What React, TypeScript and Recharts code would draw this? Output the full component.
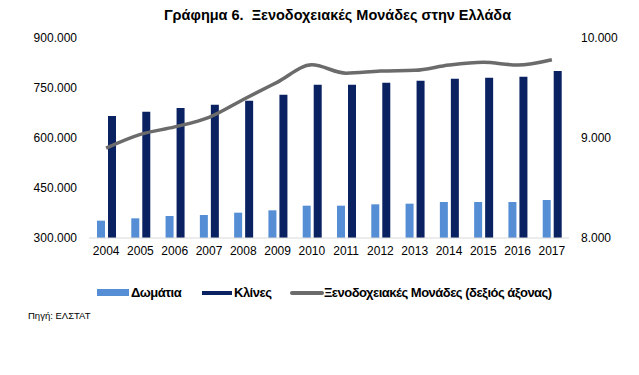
import { Bar, ComposedChart, Line, XAxis, YAxis } from "recharts";

const years = ["2004", "2005", "2006", "2007", "2008", "2009", "2010", "2011", "2012", "2013", "2014", "2015", "2016", "2017"];
const rooms = [352000, 359000, 366000, 369000, 376000, 383000, 397000, 397000, 401000, 403000, 408000, 408000, 408000, 414000];
const beds = [666000, 679000, 690000, 700000, 712000, 730000, 760000, 760000, 766000, 772000, 778000, 781000, 784000, 801000];
const hotels = [8899, 9036, 9111, 9207, 9385, 9559, 9732, 9648, 9670, 9677, 9730, 9757, 9730, 9783];

const leftTicks = [300000, 450000, 600000, 750000, 900000];
const rightTicks = [8000, 9000, 10000];

const LIGHT = "#558ed5";
const DARK = "#0a2261";
const GREY = "#6b6b6b";
const FONT = "'Liberation Sans', Arial, sans-serif";

const fmt = (v: number) => v.toLocaleString("de-DE", { minimumFractionDigits: 0 }).replace(/,/g, ".");

export default function App() {
  const data = years.map((year, i) => ({
    year,
    rooms: rooms[i],
    beds: beds[i],
    hotels: hotels[i]
  }));

  const tick = { fontSize: 12, fill: "#000", fontFamily: FONT };

  return (
    <div style={{ position: "absolute", left: 0, top: 0, width: 639, height: 375, background: "#fff", fontFamily: FONT }}>
      <div
        style={{
          position: "absolute",
          top: 7,
          left: 0,
          width: 675,
          textAlign: "center",
          fontSize: 14.5,
          fontWeight: "bold",
          color: "#000",
          whiteSpace: "pre"
        }}
      >
        {"Γράφημα 6.  Ξενοδοχειακές Μονάδες στην Ελλάδα"}
      </div>

      <div style={{ position: "absolute", top: 0, left: 0 }}>
        <ComposedChart
          width={639}
          height={268}
          data={data}
          margin={{ top: 38, right: 0, bottom: 0, left: 0 }}
          barSize={8}
          barGap={3}
        >
          <XAxis
            dataKey="year"
            tick={tick}
            tickLine={false}
            axisLine={{ stroke: "#d9d9d9" }}
            height={30}
            interval={0}
          />
          <YAxis
            yAxisId="left"
            orientation="left"
            width={89}
            domain={[300000, 900000]}
            ticks={leftTicks}
            tickFormatter={fmt}
            tick={tick}
            tickLine={false}
            axisLine={false}
            tickMargin={6}
          />
          <YAxis
            yAxisId="right"
            orientation="right"
            width={70}
            domain={[8000, 10000]}
            ticks={rightTicks}
            tickFormatter={fmt}
            tick={{ ...tick, textAnchor: "start" }}
            tickLine={false}
            axisLine={false}
            tickMargin={6}
          />
          <Bar yAxisId="left" dataKey="rooms" fill={LIGHT} isAnimationActive={false} />
          <Bar yAxisId="left" dataKey="beds" fill={DARK} isAnimationActive={false} />
          <Line
            yAxisId="right"
            type="monotone"
            dataKey="hotels"
            stroke={GREY}
            strokeWidth={3.5}
            dot={false}
            isAnimationActive={false}
          />
        </ComposedChart>
      </div>

      <div style={{ position: "absolute", top: 285, left: 0, fontSize: 13, fontWeight: "bold", color: "#000", letterSpacing: -0.5 }}>
        <div style={{ position: "absolute", left: 97, top: 4, width: 32, height: 7, background: LIGHT }} />
        <div style={{ position: "absolute", left: 131, top: 0, whiteSpace: "nowrap" }}>Δωμάτια</div>
        <div style={{ position: "absolute", left: 202, top: 6, width: 30, height: 4, background: DARK }} />
        <div style={{ position: "absolute", left: 234, top: 0, whiteSpace: "nowrap" }}>Κλίνες</div>
        <div style={{ position: "absolute", left: 290, top: 6, width: 34, height: 4, background: GREY, borderRadius: 2 }} />
        <div style={{ position: "absolute", left: 324, top: 0, whiteSpace: "nowrap" }}>Ξενοδοχειακές Μονάδες (δεξιός άξονας)</div>
      </div>

      <div style={{ position: "absolute", top: 310, left: 28, fontSize: 9.5, color: "#000", whiteSpace: "nowrap" }}>
        Πηγή: ΕΛΣΤΑΤ
      </div>
    </div>
  );
}
